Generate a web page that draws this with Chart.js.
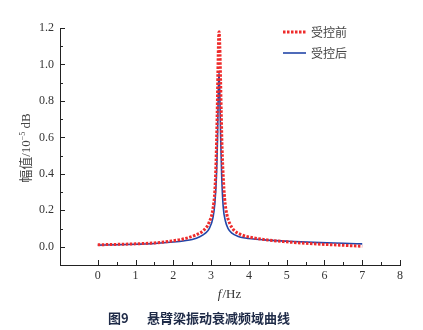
<!DOCTYPE html>
<html>
<head>
<meta charset="utf-8">
<script src="https://cdn.jsdelivr.net/npm/chart.js@4/dist/chart.umd.min.js"></script>
<style>
    html, body { margin: 0; padding: 0; background: #fff; }
    #wrap { width: 423px; height: 330px; }
</style>
</head>
<body>
<div id="wrap"><canvas id="freqChart" width="423" height="330"></canvas></div>
<script>
// 频率 (Hz) 与幅值 (10^-5 dB)
const beforeX = [0, 0.5, 1.0, 1.5, 1.9, 2.2, 2.4, 2.6, 2.8, 2.95, 3.05, 3.1, 3.13, 3.16, 3.18, 3.2, 3.21,
    3.23, 3.25, 3.27, 3.29, 3.32, 3.36, 3.42, 3.5, 3.6, 3.8, 4.1, 4.5, 5.0, 5.5, 6.0, 6.5, 7.0];
const beforeY = [0.011, 0.013, 0.016, 0.021, 0.03, 0.04, 0.05, 0.065, 0.09, 0.135, 0.21, 0.31, 0.46, 0.72, 0.96, 1.15, 1.18,
    1.1, 0.92, 0.72, 0.54, 0.39, 0.26, 0.175, 0.125, 0.092, 0.066, 0.05, 0.037, 0.027, 0.019, 0.013, 0.008, 0.003];

const afterX = [0, 0.5, 1.0, 1.5, 2.0, 2.3, 2.5, 2.7, 2.85, 2.95, 3.05, 3.1, 3.14, 3.17, 3.19, 3.21,
    3.23, 3.25, 3.28, 3.32, 3.38, 3.45, 3.55, 3.7, 3.9, 4.4, 5.0, 5.7, 6.5, 7.0];
const afterY = [0.009, 0.011, 0.014, 0.018, 0.026, 0.033, 0.04, 0.055, 0.075, 0.1, 0.16, 0.24, 0.38, 0.6, 0.85, 0.96,
    0.84, 0.62, 0.39, 0.22, 0.14, 0.1, 0.075, 0.058, 0.048, 0.038, 0.031, 0.024, 0.019, 0.016];

const xTicks = [0, 1, 2, 3, 4, 5, 6, 7, 8];
const yTicks = [0.0, 0.2, 0.4, 0.6, 0.8, 1.0, 1.2];
const seriesNames = ['受控前', '受控后'];

const serif = '"Liberation Serif", "DejaVu Serif", serif';
const cjk = '"Noto Sans CJK SC", sans-serif';

function toPoints(xs, ys) {
    return xs.map((x, i) => ({ x: x, y: ys[i] }));
}

// 内向刻度、图例、坐标轴标题与图题
const decorations = {
    id: 'decorations',
    afterDraw(chart) {
        const ctx = chart.ctx;
        const xs = chart.scales.x;
        const ys = chart.scales.y;
        const area = chart.chartArea;

        ctx.save();
        ctx.strokeStyle = '#222';
        ctx.lineWidth = 1;
        ctx.beginPath();
        for (let v = 0; v <= 8.001; v += 0.5) {
            const px = Math.round(xs.getPixelForValue(v)) + 0.5;
            const len = Math.abs(v - Math.round(v)) < 0.01 ? 5 : 3;
            ctx.moveTo(px, area.bottom);
            ctx.lineTo(px, area.bottom - len);
        }
        for (let i = 0; i <= 12; i++) {
            const v = i / 10;
            const py = Math.round(ys.getPixelForValue(v)) + 0.5;
            const len = i % 2 === 0 ? 5 : 3;
            ctx.moveTo(area.left, py);
            ctx.lineTo(area.left + len, py);
        }
        ctx.stroke();

        // 图例
        chart.data.datasets.forEach((ds, i) => {
            const ly = 32 + i * 21;
            ctx.beginPath();
            ctx.strokeStyle = ds.borderColor;
            ctx.lineWidth = ds.borderWidth;
            ctx.setLineDash(ds.borderDash || []);
            ctx.moveTo(283, ly);
            ctx.lineTo(306, ly);
            ctx.stroke();
            ctx.setLineDash([]);
            ctx.fillStyle = '#444';
            ctx.font = '12px ' + cjk;
            ctx.textAlign = 'left';
            ctx.textBaseline = 'middle';
            ctx.fillText(seriesNames[i], 311, ly);
        });

        // 横轴标题 f/Hz
        ctx.fillStyle = '#333';
        ctx.textBaseline = 'alphabetic';
        ctx.font = 'italic 13px ' + serif;
        const fW = ctx.measureText('f').width;
        ctx.font = '13px ' + serif;
        const restW = ctx.measureText('/Hz').width;
        let tx = 229 - (fW + restW) / 2;
        ctx.font = 'italic 13px ' + serif;
        ctx.fillText('f', tx, 298);
        ctx.font = '13px ' + serif;
        ctx.fillText('/Hz', tx + fW + 1, 298);

        // 纵轴标题 幅值/10^-5 dB
        ctx.translate(25, 148);
        ctx.rotate(-Math.PI / 2);
        const parts = [
            { t: '幅值', f: '13px ' + cjk, dy: 0 },
            { t: '/10', f: '13px ' + serif, dy: 0 },
            { t: '−5', f: '8px ' + serif, dy: -5 },
            { t: ' dB', f: '13px ' + serif, dy: 0 }
        ];
        let total = 0;
        parts.forEach(p => { ctx.font = p.f; total += ctx.measureText(p.t).width; });
        let px = -total / 2;
        ctx.fillStyle = '#444';
        parts.forEach(p => {
            ctx.font = p.f;
            ctx.fillText(p.t, px, 5 + p.dy);
            px += ctx.measureText(p.t).width;
        });
        ctx.setTransform(1, 0, 0, 1, 0, 0);

        // 图题
        ctx.fillStyle = '#1f2b48';
        ctx.font = 'bold 13px ' + cjk;
        ctx.textAlign = 'left';
        ctx.fillText('图9', 108, 323);
        ctx.fillText('悬臂梁振动衰减频域曲线', 147, 323);
        ctx.restore();
    }
};

new Chart(document.getElementById('freqChart'), {
    type: 'line',
    data: {
        datasets: [
            {
                label: seriesNames[0],
                data: toPoints(beforeX, beforeY),
                borderColor: '#ee2b2b',
                borderWidth: 3,
                borderDash: [2.5, 1.5],
                pointRadius: 0,
                cubicInterpolationMode: 'monotone',
                fill: false,
                order: 1
            },
            {
                label: seriesNames[1],
                data: toPoints(afterX, afterY),
                borderColor: '#2346a8',
                borderWidth: 1.6,
                pointRadius: 0,
                cubicInterpolationMode: 'monotone',
                fill: false,
                order: 2
            }
        ]
    },
    options: {
        responsive: false,
        animation: false,
        layout: { padding: { left: 0, right: 23, top: 28, bottom: 0 } },
        plugins: {
            legend: { display: false },
            tooltip: { enabled: false }
        },
        scales: {
            x: {
                type: 'linear',
                min: -1,
                max: 8,
                afterBuildTicks: scale => { scale.ticks = xTicks.map(v => ({ value: v })); },
                afterFit: scale => { scale.height = 65; },
                grid: { display: false, drawTicks: false },
                border: { display: true, color: '#222', width: 1 },
                ticks: {
                    padding: 4,
                    color: '#333',
                    font: { family: serif, size: 12 },
                    maxRotation: 0,
                    callback: v => String(v)
                }
            },
            y: {
                type: 'linear',
                min: -0.1,
                max: 1.2,
                afterBuildTicks: scale => { scale.ticks = yTicks.map(v => ({ value: v })); },
                afterFit: scale => { scale.width = 60; },
                grid: { display: false, drawTicks: false },
                border: { display: true, color: '#222', width: 1 },
                ticks: {
                    padding: 6,
                    color: '#333',
                    font: { family: serif, size: 12 },
                    callback: v => v.toFixed(1)
                }
            }
        }
    },
    plugins: [decorations]
});
</script>
</body>
</html>
